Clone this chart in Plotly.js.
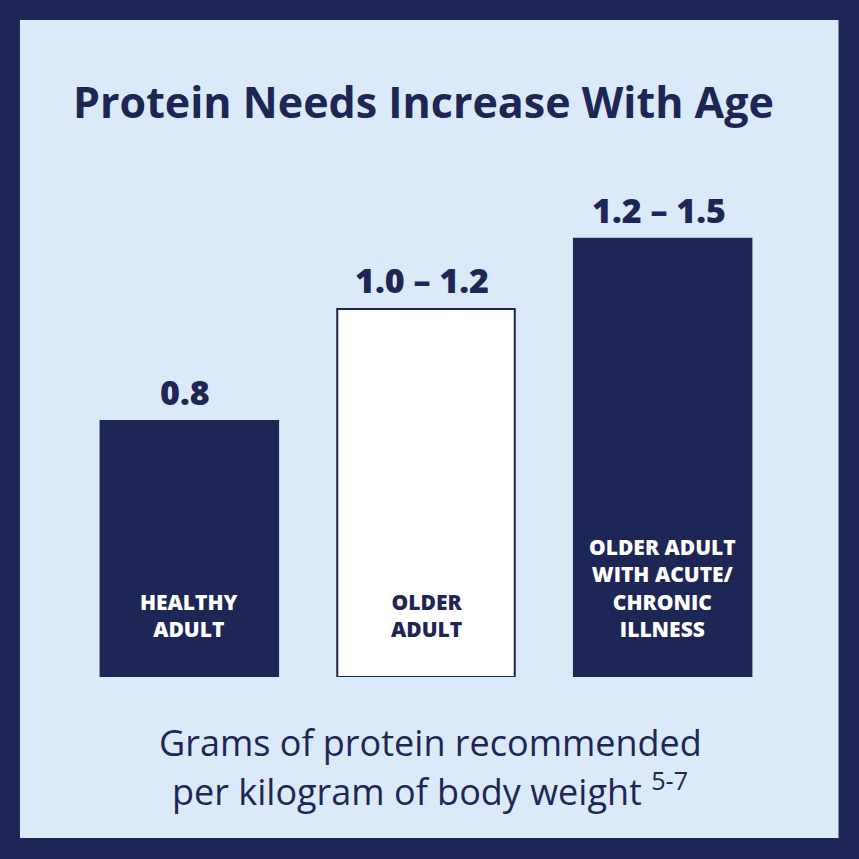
<!DOCTYPE html>
<html>
<head>
<meta charset="utf-8">
<script src="https://cdn.plot.ly/plotly-3.0.1.min.js"></script>
<style>
  html, body { margin: 0; padding: 0; background: #1e2656; }
  #chart { width: 859px; height: 859px; }
</style>
</head>
<body>
<div id="chart"></div>
<script>
const NAVY = '#1e2656'
const LIGHT = '#dbeaf8'

// values
const categories = ['HEALTHY<br>ADULT', 'OLDER<br>ADULT', 'OLDER ADULT<br>WITH ACUTE/<br>CHRONIC<br>ILLNESS']
const barHeights = [0.8, 1.15, 1.37]
const rangeLabels = ['0.8', '1.0 – 1.2', '1.2 – 1.5']
const barFills = [NAVY, '#ffffff', NAVY]
const innerTextColors = ['#ffffff', NAVY, '#ffffff']
const titleText = 'Protein Needs Increase With Age'
const footLines = ['Grams of protein recommended', 'per kilogram of body weight <sup>5-7</sup>']

const config = {
  responsive: false,
  staticPlot: true,
  displayModeBar: false
}

const FONT = '"Open Sans", Lato, sans-serif'

const bars = {
  x: categories,
  y: barHeights,
  type: 'bar',
  width: 0.75,
  marker: {
    color: barFills,
    line: { color: NAVY, width: 2 }
  },
  hoverinfo: 'skip'
}

// value labels above each bar
const valueNotes = categories.map((cat, i) => ({
  x: cat,
  y: barHeights[i],
  xref: 'x',
  yref: 'y',
  text: rangeLabels[i],
  showarrow: false,
  yanchor: 'bottom',
  yshift: 4,
  xshift: -4,
  font: { family: FONT, size: 34, color: NAVY, weight: 800 }
}))

// category names inside each bar
const innerNotes = categories.map((cat, i) => ({
  x: cat,
  y: 0.1,
  xref: 'x',
  yref: 'y',
  text: cat,
  showarrow: false,
  yanchor: 'bottom',
  font: { family: FONT, size: 21, color: innerTextColors[i], weight: 800 }
}))

const footNotes = footLines.map((line, i) => ({
  x: 0.506,
  y: i === 0 ? -0.125 : -0.213,
  xref: 'paper',
  yref: 'paper',
  text: line,
  showarrow: false,
  yanchor: 'middle',
  font: { family: FONT, size: 36, color: NAVY, weight: 500 }
}))

const layout = {
  width: 859,
  height: 859,
  margin: { l: 71, r: 78, t: 150, b: 182, pad: 0 },
  paper_bgcolor: NAVY,
  plot_bgcolor: 'rgba(0,0,0,0)',
  showlegend: false,
  title: {
    text: titleText,
    x: 0.493,
    xref: 'container',
    y: 0.88,
    yref: 'container',
    yanchor: 'middle',
    font: { family: FONT, size: 43, color: NAVY, weight: 700 }
  },
  xaxis: {
    type: 'category',
    range: [-0.5, 2.5],
    showticklabels: false,
    showgrid: false,
    zeroline: false,
    showline: false,
    ticks: ''
  },
  yaxis: {
    range: [0, 1.647],
    visible: false,
    showgrid: false,
    zeroline: false
  },
  shapes: [{
    type: 'rect',
    xref: 'paper',
    yref: 'paper',
    x0: -0.0719,
    x1: 1.081,
    y0: -0.3055,
    y1: 1.2467,
    fillcolor: LIGHT,
    line: { width: 0 },
    layer: 'below'
  }],
  annotations: [...valueNotes, ...innerNotes, ...footNotes]
}

Plotly.newPlot('chart', [bars], layout, config)
</script>
</body>
</html>
